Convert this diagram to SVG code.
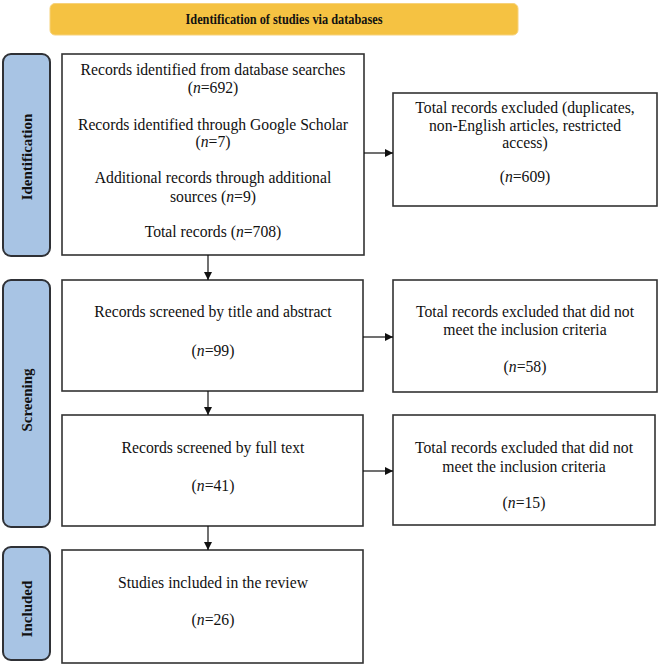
<svg xmlns="http://www.w3.org/2000/svg" width="660" height="667" viewBox="0 0 660 667">
<defs>
<marker id="ah" viewBox="0 0 10 10" refX="10" refY="5" markerWidth="8" markerHeight="8" markerUnits="userSpaceOnUse" orient="auto">
<path d="M0,0 L10,5 L0,10 z" fill="#111"/>
</marker>
<style>
.box{fill:#fff;stroke:#333;stroke-width:1.6}
.side{fill:#A8C4E4;stroke:#2f3136;stroke-width:2}
.t{font-family:"Liberation Serif","Times New Roman",serif;font-size:15.7px;fill:#111;text-anchor:middle}
.b{font-family:"Liberation Serif","Times New Roman",serif;font-size:15px;font-weight:bold;fill:#111;text-anchor:middle}
.c{stroke:#111;stroke-width:1.2;fill:none;marker-end:url(#ah)}
</style>
</defs>
<rect width="660" height="667" fill="#fff"/>
<g id="header">
<rect x="50" y="3.5" width="468" height="31.5" rx="5" fill="#F5C242" stroke="#F7D27A" stroke-width="1"/>
<text class="b" x="284" y="24" textLength="197" lengthAdjust="spacingAndGlyphs">Identification of studies via databases</text>
</g>
<g id="label-identification">
<rect class="side" x="3" y="54" width="47" height="202" rx="8"/>
<text class="b" transform="translate(32,157) rotate(-90)">Identification</text>
</g>
<g id="label-screening">
<rect class="side" x="3" y="280" width="47" height="247" rx="8"/>
<text class="b" transform="translate(32,400) rotate(-90)">Screening</text>
</g>
<g id="label-included">
<rect class="side" x="3" y="547" width="47" height="113" rx="8"/>
<text class="b" transform="translate(32,609) rotate(-90)">Included</text>
</g>
<g id="box-identified">
<rect class="box" x="62" y="54" width="302" height="201"/>
<text class="t" x="213" y="75">Records identified from database searches</text>
<text class="t" x="213" y="93">(<tspan font-style="italic">n</tspan>=692)</text>
<text class="t" x="213" y="130">Records identified through Google Scholar</text>
<text class="t" x="213" y="147">(<tspan font-style="italic">n</tspan>=7)</text>
<text class="t" x="213" y="183">Additional records through additional</text>
<text class="t" x="213" y="202">sources (<tspan font-style="italic">n</tspan>=9)</text>
<text class="t" x="213" y="237">Total records (<tspan font-style="italic">n</tspan>=708)</text>
</g>
<g id="box-excluded1">
<rect class="box" x="393" y="93" width="264" height="113"/>
<text class="t" x="525" y="113">Total records excluded (duplicates,</text>
<text class="t" x="525" y="131">non-English articles, restricted</text>
<text class="t" x="525" y="148">access)</text>
<text class="t" x="525" y="182">(<tspan font-style="italic">n</tspan>=609)</text>
</g>
<g id="box-screened-title">
<rect class="box" x="62" y="280" width="301" height="111"/>
<text class="t" x="213" y="317">Records screened by title and abstract</text>
<text class="t" x="213" y="356">(<tspan font-style="italic">n</tspan>=99)</text>
</g>
<g id="box-excluded2">
<rect class="box" x="393" y="280" width="264" height="112"/>
<text class="t" x="525" y="317">Total records excluded that did not</text>
<text class="t" x="525" y="335">meet the inclusion criteria</text>
<text class="t" x="525" y="372">(<tspan font-style="italic">n</tspan>=58)</text>
</g>
<g id="box-screened-full">
<rect class="box" x="62" y="415" width="301" height="111"/>
<text class="t" x="213" y="453">Records screened by full text</text>
<text class="t" x="213" y="491">(<tspan font-style="italic">n</tspan>=41)</text>
</g>
<g id="box-excluded3">
<rect class="box" x="393" y="415" width="262" height="110"/>
<text class="t" x="524" y="453">Total records excluded that did not</text>
<text class="t" x="524" y="472">meet the inclusion criteria</text>
<text class="t" x="524" y="508">(<tspan font-style="italic">n</tspan>=15)</text>
</g>
<g id="box-included">
<rect class="box" x="62" y="550" width="301" height="113"/>
<text class="t" x="213" y="588">Studies included in the review</text>
<text class="t" x="213" y="625">(<tspan font-style="italic">n</tspan>=26)</text>
</g>
<g id="connectors">
<line class="c" x1="364" y1="153" x2="393" y2="153"/>
<line class="c" x1="208" y1="255" x2="208" y2="280"/>
<line class="c" x1="363" y1="337" x2="393" y2="337"/>
<line class="c" x1="208" y1="391" x2="208" y2="415"/>
<line class="c" x1="363" y1="471" x2="393" y2="471"/>
<line class="c" x1="208" y1="526" x2="208" y2="550"/>
</g>
</svg>
